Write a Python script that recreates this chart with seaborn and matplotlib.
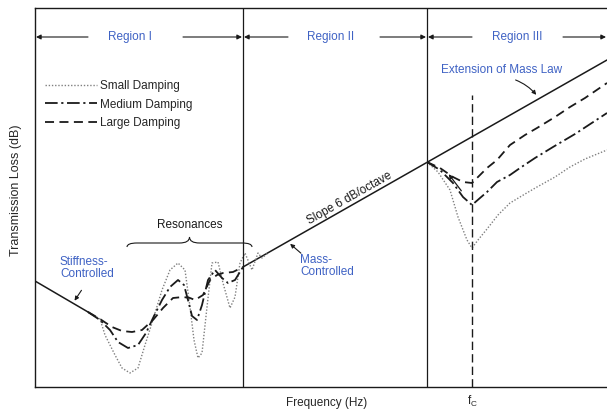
import numpy as np
import pandas as pd
import seaborn as sns
import matplotlib.pyplot as plt
from matplotlib.path import Path
from matplotlib.patches import PathPatch

sns.set_style("white")
plt.rcParams['font.family'] = ['Liberation Sans', 'DejaVu Sans']

# schematic units: frequency position (0-572), transmission loss (0-379)
stiff_f = [0, 53]
stiff_tl = [106, 75]

mass_f = [208, 572]
mass_tl = [120, 327]

# Region I + III curves for each damping level
small_f = [53, 65, 70, 80, 87, 95, 103, 110, 117, 127, 135, 143, 150, 155, 159, 163, 167, 172,
           177, 183, 188, 195, 200, 205, 210, 217, 223, 227, 233]
small_tl = [75, 68, 52, 32, 19, 14, 19, 42, 64, 97, 117, 124, 117, 80, 47, 29, 34, 80,
            124, 125, 104, 79, 90, 124, 134, 117, 134, 129, 134]
small3_f = [392, 403, 415, 423, 432, 437, 443, 452, 463, 475, 490, 502, 520, 535, 550, 572]
small3_tl = [225, 215, 197, 170, 147, 139, 147, 158, 172, 184, 193, 200, 210, 220, 228, 237]

medium_f = [53, 65, 75, 83, 93, 103, 111, 118, 127, 135, 143, 149, 153, 157, 162, 167, 173,
            180, 187, 193, 200, 208]
medium_tl = [75, 67, 57, 45, 39, 42, 54, 69, 87, 100, 107, 102, 87, 71, 67, 82, 107,
             117, 109, 104, 107, 120]
medium3_f = [392, 405, 418, 428, 437, 445, 452, 462, 475, 485, 500, 518, 540, 572]
medium3_tl = [225, 217, 204, 190, 182, 189, 195, 205, 212, 219, 229, 240, 253, 274]

large_f = [53, 65, 77, 87, 97, 107, 118, 128, 138, 148, 155, 160, 168, 175, 182, 188, 198, 208]
large_tl = [75, 68, 60, 56, 55, 57, 67, 79, 89, 90, 89, 87, 92, 107, 112, 114, 115, 120]
large3_f = [392, 405, 418, 428, 437, 445, 452, 462, 475, 490, 502, 520, 535, 550, 572]
large3_tl = [225, 219, 210, 205, 204, 212, 219, 227, 242, 252, 259, 270, 280, 289, 304]

fc = 437
region_edges = [0, 208, 392, 572]
region_names = ["Region I", "Region II", "Region III"]
region_label_f = [95, 296, 482]
region_tails = [(53, 148), (253, 345), (437, 528)]

fig = plt.figure(figsize=(6.07, 4.11), dpi=100)
ax = fig.add_axes([35 / 607, 24 / 411, 572 / 607, 379 / 411])
ax.set_xlim(0, 572)
ax.set_ylim(0, 379)

ink = "#1a1a1a"
blue = "#3f62c4"
fs = 8.5
styles = {
    "Small Damping": dict(color="#808080", lw=1.0, linestyle=(0, (1, 1.3))),
    "Medium Damping": dict(color=ink, lw=1.3, linestyle=(0, (7, 2, 1.2, 2))),
    "Large Damping": dict(color=ink, lw=1.3, linestyle=(0, (5, 3))),
}
curves = {
    "Small Damping": [(small_f, small_tl), (small3_f, small3_tl)],
    "Medium Damping": [(medium_f, medium_tl), (medium3_f, medium3_tl)],
    "Large Damping": [(large_f, large_tl), (large3_f, large3_tl)],
}

sns.lineplot(x=stiff_f, y=stiff_tl, ax=ax, color=ink, lw=1.1, estimator=None)
sns.lineplot(x=mass_f, y=mass_tl, ax=ax, color=ink, lw=1.1, estimator=None)

for name, parts in curves.items():
    for i, (f, tl) in enumerate(parts):
        df = pd.DataFrame({"f": f, "tl": tl})
        sns.lineplot(data=df, x="f", y="tl", ax=ax, estimator=None, sort=False,
                     label=name if i == 0 else None, **styles[name])

# region boundaries and coincidence frequency
for xe in region_edges[1:3]:
    ax.axvline(xe, color=ink, lw=0.9)
ax.plot([fc, fc], [0, 292], color=ink, lw=1.0, linestyle=(0, (6, 3)))

# region arrows
for i, name in enumerate(region_names):
    x0, x1 = region_edges[i], region_edges[i + 1]
    ax.text(region_label_f[i], 350, name, color=blue, fontsize=fs, ha="center", va="center")
    for xs, xe in [(region_tails[i][0], x0 + 1), (region_tails[i][1], x1 - 1)]:
        ax.annotate("", xy=(xe, 350), xytext=(xs, 350),
                    arrowprops=dict(arrowstyle="-|>", lw=0.8, color=ink,
                                    mutation_scale=7, shrinkA=0, shrinkB=0))

# legend
leg = ax.legend(loc="upper left", bbox_to_anchor=(10 / 572, 0.81), frameon=False,
                fontsize=fs, handlelength=4.4, handletextpad=0.3, labelspacing=0.55,
                borderpad=0, borderaxespad=0)

# annotations
ax.text(25, 119, "Stiffness-\nControlled", color=blue, fontsize=fs, ha="left",
        va="center", linespacing=1.05)
ax.annotate("", xy=(38, 84), xytext=(48, 99),
            arrowprops=dict(arrowstyle="-|>", lw=0.8, color=ink, mutation_scale=6))

ax.text(265, 121, "Mass-\nControlled", color=blue, fontsize=fs, ha="left",
        va="center", linespacing=1.05)
ax.annotate("", xy=(253, 145), xytext=(268, 132),
            arrowprops=dict(arrowstyle="-|>", lw=0.8, color=ink, mutation_scale=6))

ax.text(318, 183, "Slope 6 dB/octave", fontsize=fs, rotation=29.5,
        rotation_mode="anchor", ha="center", va="bottom", color=ink)

ax.text(467, 317, "Extension of Mass Law", color=blue, fontsize=fs, ha="center", va="center")
ax.annotate("", xy=(503, 290), xytext=(478, 308),
            arrowprops=dict(arrowstyle="-|>", lw=0.8, color=ink, mutation_scale=6,
                            connectionstyle="arc3,rad=-0.15"))
ax.annotate("", xy=(412, 215), xytext=(428, 194),
            arrowprops=dict(arrowstyle="-|>", lw=0.9, color=ink, mutation_scale=6))

ax.text(155, 162, "Resonances", fontsize=fs, ha="center", va="center", color=ink)
bx0, bx1, by, bh = 92, 217, 144, 6
bm = (bx0 + bx1) / 2
verts = [(bx0, by - 4), (bx0, by), (bx0 + 10, by), (bm - 10, by), (bm, by), (bm, by + bh),
         (bm, by), (bm + 10, by), (bx1 - 10, by), (bx1, by), (bx1, by - 4)]
codes = [Path.MOVETO, Path.CURVE3, Path.CURVE3, Path.LINETO, Path.CURVE3, Path.CURVE3,
         Path.CURVE3, Path.CURVE3, Path.LINETO, Path.CURVE3, Path.CURVE3]
ax.add_patch(PathPatch(Path(verts, codes), fill=False, lw=0.8, color=ink))

# axes styling
ax.set_xticks([208, 392, fc])
ax.set_xticklabels(["", "", r"f$_\mathregular{C}$"], fontsize=fs)
ax.set_yticks([])
ax.tick_params(axis="x", direction="out", length=3, width=0.8, pad=2)
ax.spines["right"].set_visible(False)
for s in ["left", "top", "bottom"]:
    ax.spines[s].set_linewidth(1.0)
    ax.spines[s].set_color(ink)
ax.set_xlabel("Frequency (Hz)", fontsize=fs)
ax.xaxis.set_label_coords(292 / 572, -0.027)
ax.set_ylabel("Transmission Loss (dB)", fontsize=9)
ax.yaxis.set_label_coords(-13 / 572, 0.52)

fig.savefig("out.png", dpi=100)
